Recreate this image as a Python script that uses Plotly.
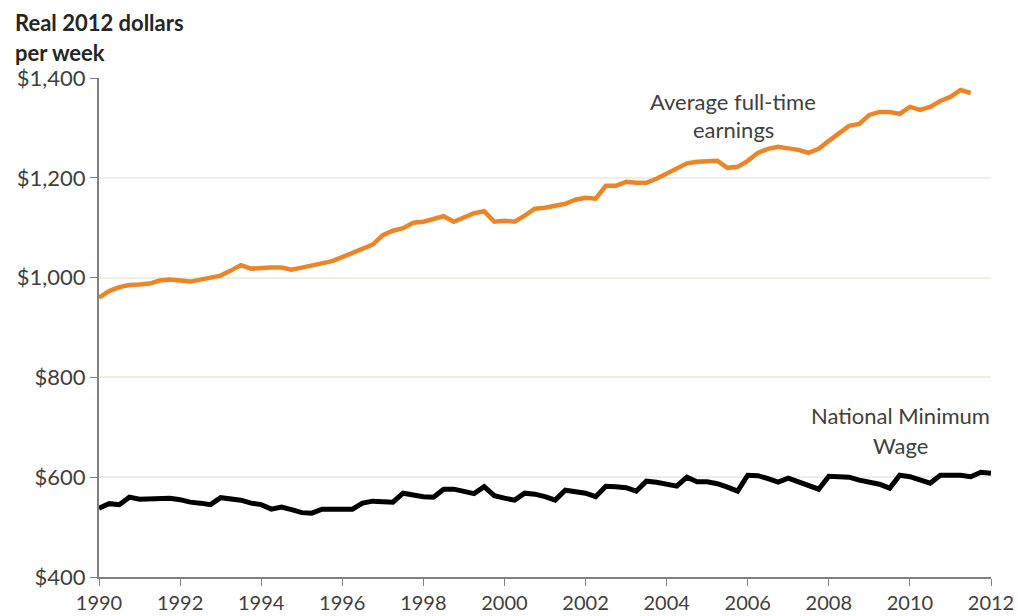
import plotly.graph_objects as go

# Quarterly observations, 1990 Q1 onward
start_year = 1990
quarter_step = 0.25

earnings = [960, 973, 981, 985, 986, 988, 994, 996, 994, 992, 996, 1000,
            1004, 1014, 1025, 1018, 1020, 1020, 1020, 1016, 1020, 1024, 1028, 1033,
            1041, 1050, 1058, 1066, 1085, 1094, 1099, 1110, 1112, 1117, 1123, 1112,
            1121, 1129, 1133, 1112, 1114, 1112, 1124, 1138, 1140, 1144, 1148, 1156,
            1160, 1158, 1184, 1184, 1192, 1190, 1190, 1198, 1209, 1218, 1229, 1232,
            1232, 1234, 1220, 1222, 1234, 1250, 1258, 1262, 1259, 1256, 1250, 1258,
            1274, 1290, 1304, 1308, 1326, 1332, 1332, 1328, 1342, 1336, 1342, 1354,
            1362, 1376, 1370]

min_wage = [538, 547, 545, 560, 556, 556, 557, 558, 555, 550, 548, 545,
            559, 557, 554, 548, 545, 536, 540, 535, 529, 528, 536, 536,
            536, 536, 548, 552, 551, 550, 568, 564, 561, 560, 576, 576,
            572, 567, 581, 563, 558, 554, 568, 566, 561, 554, 574, 572,
            568, 561, 582, 581, 579, 572, 592, 590, 587, 582, 600, 591,
            591, 587, 580, 572, 604, 603, 597, 590, 598, 590, 583, 576,
            602, 601, 600, 594, 590, 586, 578, 604, 601, 595, 588, 604,
            604, 604, 601, 610, 608]

x_earn = [start_year + i * quarter_step for i in range(len(earnings))]
x_wage = [start_year + i * quarter_step for i in range(len(min_wage))]

x_ticks = list(range(1990, 2013, 2))
y_ticks = [400, 600, 800, 1000, 1200, 1400]
y_tick_text = ["$400", "$600", "$800", "$1,000", "$1,200", "$1,400"]

FONT = "Lato, 'Open Sans', sans-serif"
TXT = "#404040"

fig = go.Figure()
fig.add_trace(go.Scatter(x=x_earn, y=earnings, mode="lines",
                         line=dict(color="#EC8526", width=4.5),
                         name="Average full-time earnings", showlegend=False))
fig.add_trace(go.Scatter(x=x_wage, y=min_wage, mode="lines",
                         line=dict(color="#000000", width=5),
                         name="National Minimum Wage", showlegend=False))

fig.update_layout(
    width=1018, height=616,
    margin=dict(l=99, r=27, t=78, b=39, autoexpand=False),
    paper_bgcolor="white", plot_bgcolor="white",
    font=dict(family=FONT, size=20, color=TXT),
    xaxis=dict(range=[1990, 2012], tickvals=x_ticks, ticktext=[str(t) for t in x_ticks],
               showgrid=False, zeroline=False, showline=True, linecolor="#808080", linewidth=2,
               ticks="outside", ticklen=7, tickcolor="#808080", tickwidth=1,
               tickfont=dict(family=FONT, size=20, color=TXT)),
    yaxis=dict(range=[400, 1400], tickvals=y_ticks, ticktext=y_tick_text,
               showgrid=True, gridcolor="#eeeee4", gridwidth=1.5, zeroline=False,
               showline=True, linecolor="#808080", linewidth=2,
               ticks="outside", ticklen=7, tickcolor="#808080", tickwidth=1,
               tickfont=dict(family=FONT, size=22, color=TXT)),
)

# axis title (two lines, bold) at top-left
fig.add_annotation(text="<b>Real 2012 dollars</b>", xref="paper", yref="paper",
                   x=-0.0965, y=1.112, xanchor="left", yanchor="middle", showarrow=False,
                   font=dict(family=FONT, size=22, color="#262626"))
fig.add_annotation(text="<b>per week</b>", xref="paper", yref="paper",
                   x=-0.0965, y=1.052, xanchor="left", yanchor="middle", showarrow=False,
                   font=dict(family=FONT, size=22, color="#262626"))

# series labels
fig.add_annotation(text="Average full-time", x=2005.64, y=1352, xref="x", yref="y",
                   showarrow=False, xanchor="center", yanchor="middle",
                   font=dict(family=FONT, size=22, color=TXT))
fig.add_annotation(text="earnings", x=2005.64, y=1296, xref="x", yref="y",
                   showarrow=False, xanchor="center", yanchor="middle",
                   font=dict(family=FONT, size=22, color=TXT))
fig.add_annotation(text="National Minimum", x=2009.78, y=723, xref="x", yref="y",
                   showarrow=False, xanchor="center", yanchor="middle",
                   font=dict(family=FONT, size=22, color=TXT))
fig.add_annotation(text="Wage", x=2009.78, y=663, xref="x", yref="y",
                   showarrow=False, xanchor="center", yanchor="middle",
                   font=dict(family=FONT, size=22, color=TXT))

fig.write_html("out.html",
               config={"displayModeBar": False},
               post_script="document.body.style.margin='0';"
                           "document.documentElement.style.overflow='hidden';")
